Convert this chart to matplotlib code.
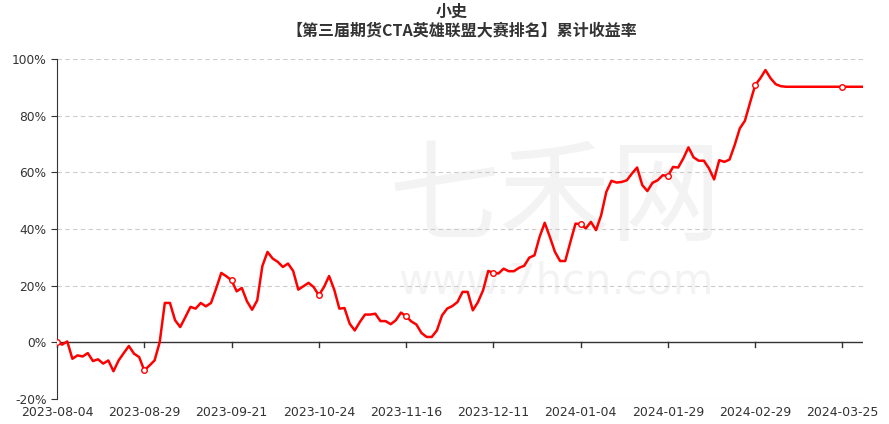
import numpy as np
import matplotlib.pyplot as plt

plt.rcParams['font.family'] = ['Noto Sans CJK SC', 'DejaVu Sans']

# cumulative return (%) per trading day, 2023-08-04 .. 2024-04
returns = [
    0.0, -0.8, 0.3, -5.8, -4.6, -5.0, -3.8, -6.6, -6.0, -7.5,
    -6.4, -10.2, -6.4, -3.8, -1.3, -4.0, -5.2, -9.9, -8.2, -6.4,
    0.0, 13.9, 13.9, 7.8, 5.4, 8.9, 12.5, 11.9, 13.9, 12.7,
    13.9, 19.0, 24.5, 23.3, 21.9, 18.0, 19.2, 14.5, 11.5, 14.8,
    26.9, 31.9, 29.6, 28.4, 26.6, 27.8, 25.2, 18.6, 19.8, 21.0,
    19.5, 16.6, 19.5, 23.4, 18.6, 11.9, 12.1, 6.6, 4.2, 7.2,
    9.8, 9.8, 10.1, 7.5, 7.5, 6.4, 7.8, 10.5, 9.2, 7.4,
    6.3, 3.3, 1.9, 1.9, 4.2, 9.5, 11.9, 12.8, 14.2, 17.8,
    17.8, 11.3, 14.2, 18.4, 25.2, 24.5, 24.3, 26.0, 25.1, 25.1,
    26.3, 27.0, 29.9, 30.7, 37.2, 42.2, 37.2, 31.9, 28.7, 28.7,
    35.4, 41.9, 41.7, 40.2, 42.5, 39.6, 44.9, 53.1, 57.0, 56.4,
    56.6, 57.2, 59.6, 61.7, 55.5, 53.4, 56.3, 57.2, 59.0, 58.7,
    61.9, 61.7, 64.9, 68.8, 65.3, 64.1, 64.1, 61.4, 57.5, 64.3,
    63.7, 64.5, 69.6, 75.5, 78.2, 84.6, 90.8, 93.2, 96.1, 93.2,
    91.1, 90.4, 90.2, 90.2, 90.2, 90.2, 90.2, 90.2, 90.2, 90.2,
    90.2, 90.2, 90.2, 90.2, 90.2, 90.2, 90.2, 90.2,
]
tick_labels = ['2023-08-04', '2023-08-29', '2023-09-21', '2023-10-24', '2023-11-16',
               '2023-12-11', '2024-01-04', '2024-01-29', '2024-02-29', '2024-03-25']
y_ticks = [-20, 0, 20, 40, 60, 80, 100]
step = 17

x = np.arange(len(returns))
y = np.array(returns)

fig = plt.figure(figsize=(8.89, 4.24), dpi=100)
ax = fig.add_axes([57/889, 1-399/424, (863-57)/889, (399-59)/424])

# watermark (under the line)
ax.text(0.625, 1-200/424, '七禾网', fontsize=80, color='#f3f3f3', ha='center', va='center',
        transform=fig.transFigure, zorder=0)
ax.text(0.625, 1-282/424, 'www.7hcn.com', fontsize=30, color='#f3f3f3', ha='center', va='center',
        family='DejaVu Sans', transform=fig.transFigure, zorder=0)

ax.set_facecolor('none')
ax.plot(x, y, color='#ff0000', lw=1.8, zorder=3)
mk = x[::step]
ax.plot(mk, y[::step], 'o', ms=4, mfc='white', mec='#ff0000', mew=1, zorder=4)

ax.set_xlim(0, len(returns) - 1)
ax.set_ylim(-20, 100)
ax.set_yticks(y_ticks)
ax.set_yticklabels([f'{v}%' for v in y_ticks])
for v in y_ticks:
    if v != 0:
        ax.axhline(v, color='#cccccc', lw=0.8, ls=(0, (4, 3)), zorder=1)

ax.axhline(0, color='#333333', lw=1, zorder=2)
for xi in mk:
    ax.plot([xi, xi], [0, -1.8], color='#333333', lw=1, zorder=2, clip_on=False)
ax.set_xticks(mk)
ax.set_xticklabels(tick_labels)
ax.tick_params(axis='x', length=0, pad=5, labelsize=9, labelcolor='#333333')
ax.tick_params(axis='y', length=4, color='#333333', labelsize=8.8, labelcolor='#333333')
for lab in ax.get_xticklabels() + ax.get_yticklabels():
    lab.set_family('DejaVu Sans')

for s in ['top', 'right', 'bottom']:
    ax.spines[s].set_visible(False)
ax.spines['left'].set_color('#333333')

fig.text(0.508, 1-12/424, '小史', fontsize=11.5, fontweight='bold', ha='center', va='center', color='#333333')
fig.text(0.52, 1-30/424, '【第三届期货CTA英雄联盟大赛排名】累计收益率', fontsize=11.5,
         fontweight='bold', ha='center', va='center', color='#333333')

fig.savefig('out.png', dpi=100)
